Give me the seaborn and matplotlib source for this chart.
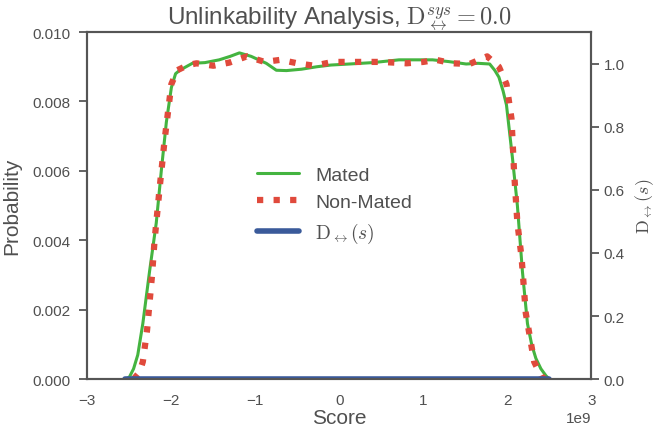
import matplotlib
matplotlib.use("Agg")
import matplotlib.pyplot as plt
import seaborn as sns
import pandas as pd

# Scores in units of 1e9
mated_score = [-2.55, -2.5, -2.45, -2.4, -2.34, -2.26, -2.18, -2.12, -2.06, -2.0, -1.95, -1.9,
               -1.75, -1.6, -1.43, -1.3, -1.19, -1.05, -0.87, -0.75, -0.63, -0.45, -0.27, -0.1,
               0.12, 0.4, 0.71, 0.9, 1.11, 1.3, 1.51, 1.65, 1.79, 1.85, 1.9, 1.95, 1.99, 2.06,
               2.12, 2.18, 2.24, 2.29, 2.34, 2.4, 2.46, 2.5]
mated_prob = [0.0, 0.00006, 0.0003, 0.0007, 0.0016, 0.0031, 0.0045, 0.0060, 0.0074, 0.0084, 0.0088, 0.0089,
              0.0091, 0.00912, 0.0092, 0.0093, 0.0094, 0.0093, 0.0091, 0.0089, 0.00889, 0.00893, 0.0090, 0.00905,
              0.00908, 0.00912, 0.0092, 0.0092, 0.0092, 0.00915, 0.00908, 0.0091, 0.00908, 0.0089, 0.0087, 0.0083, 0.0079, 0.0064,
              0.0050, 0.0031, 0.0016, 0.0010, 0.0006, 0.0003, 0.0001, 0.0]

nonmated_score = [-2.45, -2.38, -2.34, -2.29, -2.23, -2.2, -2.14, -2.08, -2.05, -2.0, -1.93, -1.8,
                  -1.7, -1.5, -1.31, -1.1, -0.89, -0.7, -0.5, -0.3, -0.08, 0.2, 0.5, 0.8, 1.0,
                  1.15, 1.35, 1.55, 1.76, 1.9, 1.99, 2.05, 2.08, 2.12, 2.17, 2.22, 2.32, 2.4, 2.45]
nonmated_prob = [0.0, 0.0002, 0.0005, 0.0014, 0.0030, 0.0040, 0.0055, 0.0069, 0.0075, 0.0085, 0.0089, 0.00905,
                 0.0091, 0.00903, 0.00912, 0.0093, 0.00914, 0.0092, 0.0091, 0.00903, 0.00914, 0.00914, 0.00914, 0.0091, 0.00914,
                 0.0092, 0.0091, 0.00908, 0.0093, 0.0090, 0.0085, 0.0075, 0.0060, 0.0045, 0.0035, 0.0019, 0.0005, 0.0001, 0.0]

d_score = [-2.55, -2.0, -1.0, 0.0, 1.0, 2.0, 2.5]
d_value = [0.0, 0.0, 0.0, 0.0, 0.0, 0.0, 0.0]

SCALE = 1e9
df_m = pd.DataFrame({"Score": [s * SCALE for s in mated_score], "Probability": mated_prob})
df_n = pd.DataFrame({"Score": [s * SCALE for s in nonmated_score], "Probability": nonmated_prob})
df_d = pd.DataFrame({"Score": [s * SCALE for s in d_score], "D": d_value})

sns.set_theme(style="white")
plt.rcParams["font.family"] = ["Liberation Sans", "DejaVu Sans"]
plt.rcParams["mathtext.fontset"] = "cm"
text_col = "#505050"
plt.rcParams.update({
    "text.color": text_col, "axes.labelcolor": text_col,
    "xtick.color": text_col, "ytick.color": text_col,
    "axes.edgecolor": "#555555", "axes.linewidth": 1.5,
})

green = "#44b440"
red = "#e04a3c"
blue = "#3a5a9a"

fig = plt.figure(figsize=(6.57, 4.35), dpi=100)
ax = fig.add_axes([0.133, 0.126, 0.767, 0.798])

sns.lineplot(data=df_m, x="Score", y="Probability", ax=ax, color=green, lw=2.2,
             label="Mated", sort=False)
sns.lineplot(data=df_n, x="Score", y="Probability", ax=ax, color=red, lw=4.5,
             linestyle=":", label="Non-Mated", sort=False)

ax.set_xlim(-3 * SCALE, 3 * SCALE)
ax.set_ylim(0, 0.010)
ax.set_yticks([0.0, 0.002, 0.004, 0.006, 0.008, 0.010])
ax.set_yticklabels(["0.000", "0.002", "0.004", "0.006", "0.008", "0.010"])
ax.set_xticks([-3e9, -2e9, -1e9, 0, 1e9, 2e9, 3e9])
ax.tick_params(axis="y", labelsize=11, pad=6)
ax.tick_params(axis="x", labelsize=11, pad=4)
ax.xaxis.get_offset_text().set_fontsize(11)
ax.set_xlabel("Score", fontsize=15, labelpad=1)
ax.set_ylabel("Probability", fontsize=15, labelpad=8)
ax.set_title(r"Unlinkability Analysis, $\mathrm{D}_{\leftrightarrow}^{sys} = 0.0$", fontsize=17.5, pad=3)

ax2 = ax.twinx()
sns.lineplot(data=df_d, x="Score", y="D", ax=ax2, color=blue, lw=4,
             label=r"$\mathrm{D}_{\leftrightarrow}(s)$", sort=False, legend=False)
ax2.set_ylim(0, 1.1)
ax2.set_yticks([0.0, 0.2, 0.4, 0.6, 0.8, 1.0])
ax2.tick_params(labelsize=11, pad=3)
ax2.set_ylabel(r"$\mathrm{D}_{\leftrightarrow}(s)$", fontsize=13, labelpad=6)
for sp in ax2.spines.values():
    sp.set_edgecolor("#555555")
    sp.set_linewidth(1.5)

h1, l1 = ax.get_legend_handles_labels()
h2, l2 = ax2.get_legend_handles_labels()
ax.get_legend().remove()
leg = ax2.legend(h1 + h2, l1 + l2, loc="center", bbox_to_anchor=(0.49, 0.5),
                 frameon=False, fontsize=14, handlelength=2.2)

fig.savefig("out.png", dpi=100)
